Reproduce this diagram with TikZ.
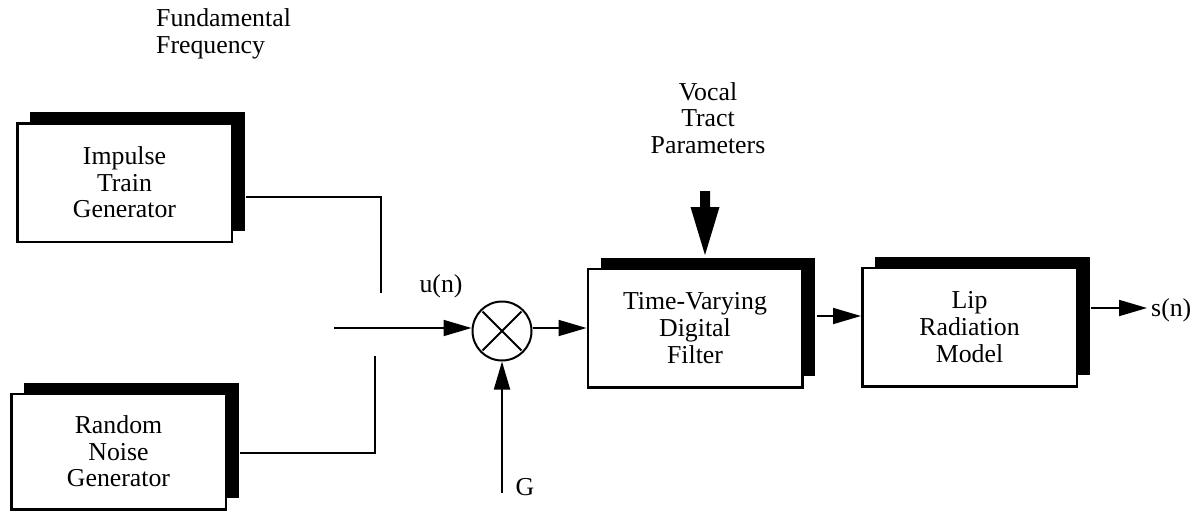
\documentclass[tikz,border=0pt]{standalone}
\usepackage{fontspec}
\setmainfont{Liberation Serif}
\usetikzlibrary{arrows.meta,shadows,calc}
\begin{document}
\begin{tikzpicture}[x=1pt,y=-1pt,
  every node/.style={font=\fontsize{25.8}{26.6}\selectfont, inner sep=0pt},
  blockbox/.style={draw=black, fill=white, line width=2.5pt, minimum width=214.5pt,
    minimum height=118.5pt, align=center,
    general shadow={fill=black, shadow xshift=13pt, shadow yshift=11pt}},
  conn/.style={line width=1.8pt},
  arr/.style={conn, -{Triangle[length=28pt,width=16pt]}},
]
\useasboundingbox (0,0) rectangle (1196,512);

% blocks
\node[blockbox] (imp) at (124.5,182.5) {Impulse\\Train\\Generator};
\node[blockbox, minimum height=115.5pt] (noise) at (118.5,451.5) {Random\\Noise\\Generator};
\node[blockbox] (filt) at (695,328) {Time-Varying\\Digital\\Filter};
\node[blockbox] (lip) at (969.5,327) {Lip\\Radiation\\Model};

% multiplier
\node[circle, draw=black, fill=white, line width=2pt, minimum size=59pt] (mult) at (502,331) {};
\draw[conn, shorten <=3pt, shorten >=3pt] (mult.north east) -- (mult.south west);
\draw[conn, shorten <=3pt, shorten >=3pt] (mult.north west) -- (mult.south east);

% labels
\node[anchor=west, align=left] (fund) at (156,34) {Fundamental\\Frequency};
\node[align=center] (vtp) at (708,118) {Vocal\\Tract\\Parameters};
\node[anchor=base] (un) at (441,292) {u(n)};
\node[anchor=base] (glab) at (525,495) {G};
\node[anchor=base west] (sn) at (1151,316) {s(n)};

% free ends
\coordinate (j1) at (381,293);
\coordinate (j2) at (375,356);
\coordinate (uin) at (334,328);
\coordinate (gin) at (502,493);
\coordinate (vt) at (705,191);
\coordinate (sout) at (1147,308);
\coordinate (vtip) at ([shift={(10,-12.5)}]filt.north);

% connectors
\draw[conn] ([shift={(13,14.5)}]imp.east) -| (j1);
\draw[conn] ([shift={(13,1.5)}]noise.east) -| (j2);
\draw[arr] (uin) -- (uin -| mult.west);
\draw[arr] (uin -| mult.east) -- (uin -| filt.west);
\draw[arr] (gin) -- (mult.south);
\draw[arr] ([shift={(13,-12)}]filt.east) -- ([shift={(0,-11)}]lip.west);
\draw[arr] ([shift={(13,-19)}]lip.east) -- (sout);

% thick vocal tract arrow
\fill ($(vt)+(-5,0)$) -- ($(vt)+(5,0)$) -- ($(vt)+(5,16)$) -- ($(vt)+(14.5,16)$)
  -- (vtip) -- ($(vt)+(-14.5,16)$) -- ($(vt)+(-5,16)$) -- cycle;
\end{tikzpicture}
\end{document}
